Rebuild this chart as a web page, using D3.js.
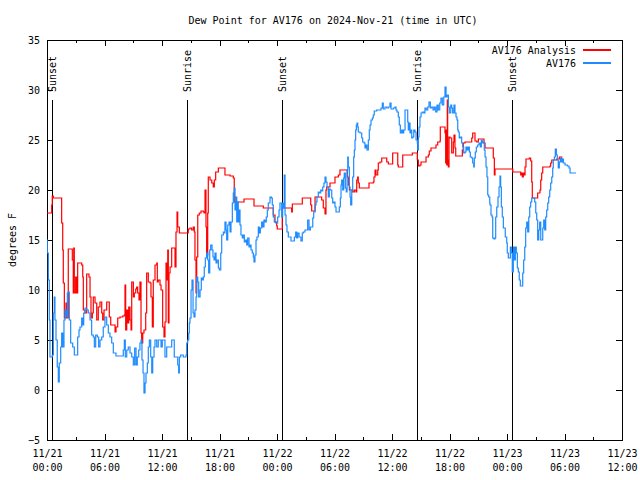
<!DOCTYPE html>
<html><head><meta charset="utf-8">
<script src="https://cdn.jsdelivr.net/npm/d3@7"></script>
<style>
body{margin:0;background:#fff;}
svg text{font-family:"DejaVu Sans Mono","Liberation Mono",monospace;font-size:10px;fill:#000;}
</style></head><body>
<svg id="chart" width="640" height="480"></svg>
<script>
// ---------- DATA ----------
const chartTitle = "Dew Point for AV176 on 2024-Nov-21 (time in UTC)";
const yAxisLabel = "degrees F";
const seriesNames = ["AV176 Analysis", "AV176"];
const seriesColors = ["#ff0000", "#1e8cff"];
const yTickValues = [-5, 0, 5, 10, 15, 20, 25, 30, 35];
const xMajorHours = [0, 6, 12, 18, 24, 30, 36, 42, 48, 54, 60];
const xMinorHours = [3, 9, 15, 21, 27, 33, 39, 45, 51, 57];
const sunLabels = ["Sunset", "Sunrise", "Sunset", "Sunrise", "Sunset"];
const sunHours = [0.55, 14.71, 24.55, 38.71, 48.55];

// hours since 2024-11-21 00:00 UTC
const analysisHours = [
0,0.49,0.55,0.66,1.53,1.64,1.70,1.81,1.98,2.06,
2.22,2.58,2.64,2.74,2.79,2.85,2.99,3.10,3.20,3.44,
3.62,3.73,3.79,3.97,4.14,4.38,4.49,4.59,4.73,4.83,
5.01,5.19,5.35,5.53,5.71,5.81,5.95,6.23,6.40,6.50,
6.65,6.99,7.10,7.20,7.38,7.62,7.90,8.07,8.14,8.21,
8.32,8.42,8.53,8.66,8.77,8.84,9.01,9.11,9.26,9.36,
9.46,9.60,9.70,9.81,9.88,9.99,10.12,10.30,10.40,10.57,
10.75,10.85,10.99,11.09,11.27,11.45,11.51,11.61,11.79,11.90,
12.07,12.21,12.31,12.42,12.49,12.60,12.66,12.73,12.84,13.01,
13.25,13.36,13.46,13.57,13.64,13.81,14.58,14.74,14.92,15.10,
15.27,15.37,15.44,15.55,15.62,15.73,15.89,16.07,16.31,16.41,
16.49,16.59,16.66,16.77,16.83,17.01,17.19,17.35,17.46,17.60,
17.88,18.40,18.57,19.10,19.44,19.54,20.04,20.56,21.53,21.60,
22.47,22.57,23.45,23.61,23.79,23.97,24.03,24.49,24.55,25.46,
25.53,25.60,26.58,26.64,27.44,27.52,27.62,27.89,27.97,28.59,
28.66,28.83,29.01,29.11,29.19,29.53,29.95,30.05,30.40,30.57,
31.27,31.34,31.44,31.55,31.90,32.07,32.24,32.32,32.42,32.48,
32.59,33.36,33.60,33.95,34.05,34.12,34.23,34.33,34.51,34.57,
34.75,34.93,35.34,35.45,35.62,35.97,36.07,36.49,36.60,36.66,
37.01,37.12,38.06,38.12,38.58,38.64,38.75,38.92,39.03,39.44,
39.55,39.79,39.89,40.07,40.49,40.59,40.77,41.01,41.04,41.46,
41.53,41.60,41.64,41.71,41.77,41.81,41.88,41.95,42.05,42.23,
42.40,42.47,42.57,42.65,43.27,43.34,43.44,43.62,44.14,44.32,
44.42,44.56,44.66,44.84,45.01,45.53,45.60,45.71,46.47,46.57,
46.68,46.75,48.49,48.60,49.28,49.43,49.53,49.60,49.70,49.81,
49.88,49.98,50.33,50.47,50.58,50.64,51.10,51.20,51.44,51.52,
51.62,51.73,52.49,52.56,52.67,53.19,53.46,53.71];
const analysisDew = [
17.7,18.5,19.4,19.2,16.7,14.0,10.7,7.2,8.7,7.2,
14.1,14.1,13.0,9.7,14.2,9.7,11.3,9.7,12.7,12.7,
12.5,11.3,8.0,7.7,11.6,11.3,9.3,7.2,7.7,9.3,
8.7,7.0,8.3,8.8,7.7,7.0,8.0,8.8,8.8,7.3,
6.5,6.5,5.8,6.3,7.2,7.3,7.4,7.5,10.5,6.0,
8.0,6.7,8.3,7.0,6.0,10.8,9.3,9.7,10.1,10.3,
9.7,9.0,10.8,5.7,4.7,5.7,6.0,7.7,11.7,10.8,
10.7,9.3,6.3,11.0,12.5,12.7,10.8,11.0,10.5,10.0,
6.3,5.3,6.8,12.7,11.0,14.0,6.7,11.7,12.3,14.2,
14.2,12.3,15.8,17.8,16.3,15.7,15.7,16.1,16.2,16.0,
16.3,15.8,13.0,9.7,13.3,17.5,17.7,17.9,17.8,17.7,
20.0,16.3,13.5,17.7,21.3,21.0,20.7,20.3,21.0,21.8,
22.2,22.2,21.5,21.4,21.2,18.8,18.8,19.1,19.1,18.4,
18.4,18.2,18.2,17.5,16.8,16.4,16.1,16.1,18.2,18.2,
17.8,18.6,18.6,19.2,19.2,18.5,17.9,17.9,19.3,19.3,
19.0,18.2,17.6,20.0,20.3,20.7,20.7,21.3,21.5,22.0,
22.0,21.3,20.5,20.0,19.8,20.0,19.8,21.0,21.3,20.7,
20.2,20.2,20.7,20.7,20.8,21.3,22.0,21.5,22.0,22.7,
22.8,23.2,23.2,22.8,22.6,22.6,23.7,23.7,22.5,22.3,
22.3,23.5,23.5,23.7,23.7,23.0,22.4,22.5,22.8,22.8,
23.3,23.5,23.9,24.2,24.2,24.5,24.8,24.9,26.3,26.3,
25.7,22.7,26.0,22.5,29.0,23.0,22.3,25.3,25.2,23.7,
24.8,25.5,24.2,23.4,23.4,24.0,24.7,24.8,24.8,25.2,
25.7,25.7,24.9,24.8,25.1,25.1,24.7,24.2,24.2,23.2,
21.5,22.1,22.1,21.8,21.8,21.5,21.7,21.3,21.7,21.5,
22.3,23.1,23.2,22.9,20.8,19.2,19.2,19.7,20.0,21.0,
21.7,22.3,22.4,22.7,23.0,23.1,23.3,23.1];

const obsHours = [
0.00,0.03,0.14,0.24,0.31,0.49,0.55,0.66,0.76,0.83,
0.94,1.07,1.18,1.28,1.43,1.53,1.64,1.77,1.88,1.98,
2.12,2.22,2.33,2.47,2.68,2.85,3.10,3.20,3.34,3.44,
3.62,3.73,3.83,3.97,4.14,4.31,4.49,4.66,4.83,4.94,
5.08,5.25,5.39,5.53,5.71,5.87,6.05,6.23,6.40,6.57,
6.75,6.92,7.20,7.79,7.96,8.07,8.17,8.32,8.48,8.66,
8.84,9.01,9.15,9.29,9.42,9.57,9.70,9.81,9.91,10.02,
10.12,10.23,10.33,10.47,10.57,10.68,10.82,10.93,11.03,11.17,
11.27,11.45,11.61,11.90,12.03,12.31,12.49,13.01,13.28,13.64,
13.74,13.81,13.95,14.22,14.50,14.58,14.68,14.79,14.85,14.92,
15.03,15.13,15.24,15.34,15.44,15.55,15.62,15.73,15.83,15.97,
16.10,16.21,16.31,16.41,16.52,16.66,16.77,16.87,16.98,17.08,
17.22,17.32,17.43,17.53,17.64,17.74,17.88,17.98,18.13,18.23,
18.40,18.50,18.57,18.68,18.75,18.86,18.99,19.10,19.20,19.34,
19.44,19.54,19.62,19.72,19.80,19.90,19.96,20.07,20.14,20.24,
20.38,20.48,20.59,20.73,20.84,20.94,21.08,21.18,21.29,21.42,
21.53,21.60,21.70,21.81,21.91,22.05,22.15,22.26,22.40,22.51,
22.64,22.75,22.88,22.99,23.09,23.27,23.41,23.51,23.61,23.72,
23.86,23.97,24.07,24.21,24.31,24.42,24.49,24.59,24.70,24.76,
24.84,24.94,25.04,25.18,25.36,25.46,25.70,25.81,25.95,26.06,
26.16,26.30,26.50,26.64,26.75,26.92,27.10,27.20,27.34,27.48,
27.62,27.73,27.83,27.97,28.07,28.17,28.31,28.41,28.56,28.66,
28.77,28.90,29.01,29.11,29.22,29.35,29.46,29.56,29.71,29.81,
29.92,30.05,30.16,30.40,30.50,30.61,30.68,30.75,30.86,30.96,
31.02,31.13,31.23,31.31,31.38,31.44,31.55,31.62,31.69,31.80,
31.90,32.00,32.07,32.14,32.21,32.28,32.35,32.42,32.48,32.66,
32.84,32.94,33.08,33.18,33.29,33.39,33.53,33.63,33.71,33.81,
33.95,34.05,34.15,34.40,34.75,34.85,34.99,35.09,35.27,35.45,
35.62,35.79,35.90,36.14,36.31,36.42,36.52,36.66,36.76,36.87,
37.01,37.12,37.22,37.36,37.54,37.64,37.70,37.81,37.88,37.98,
38.06,38.16,38.27,38.40,38.51,38.64,38.68,38.75,38.82,38.92,
39.03,39.16,39.31,39.44,39.58,39.73,39.86,40.00,40.14,40.28,
40.42,40.56,40.70,40.83,40.98,41.11,41.25,41.40,41.53,41.64,
41.74,41.88,41.98,42.13,42.23,42.33,42.47,42.57,42.68,42.78,
42.86,42.92,43.02,43.13,43.27,43.38,43.48,43.62,43.72,43.83,
43.96,44.07,44.17,44.32,44.42,44.53,44.59,44.69,44.80,44.94,
45.08,45.22,45.32,45.42,45.53,45.63,45.71,45.81,45.91,45.99,
46.09,46.20,46.23,46.33,46.44,46.51,46.64,46.75,46.82,46.93,
47.06,47.17,47.27,47.34,47.41,47.51,47.62,47.72,47.82,47.97,
48.03,48.14,48.24,48.35,48.45,48.55,48.66,48.76,48.87,48.97,
49.08,49.18,49.28,49.39,49.57,49.64,49.74,49.85,49.95,50.06,
50.16,50.27,50.37,50.47,50.58,50.89,51.00,51.10,51.20,51.31,
51.41,51.52,51.62,51.73,51.83,51.94,52.04,52.14,52.25,52.35,
52.46,52.56,52.67,52.77,52.83,52.94,53.04,53.15,53.25,53.35,
53.46,53.56,53.67,53.77,53.88,54.05,54.29,54.47,54.58,55.20];
const obsDew = [
15.0,13.7,11.0,7.0,3.3,3.3,3.5,7.7,9.3,7.0,
5.0,2.3,0.8,2.7,4.3,5.7,4.3,7.0,8.0,7.3,
9.7,9.8,7.0,4.7,4.3,3.5,3.5,5.3,6.0,6.3,
7.2,6.5,7.7,8.2,8.0,7.7,7.0,5.5,5.3,4.3,
5.5,5.3,4.3,5.0,5.3,6.3,7.3,6.5,5.7,5.3,
4.7,3.7,3.4,3.4,4.0,5.0,3.3,4.0,4.3,3.7,
3.3,2.5,4.2,2.5,3.3,4.0,4.7,5.0,3.0,1.7,
-0.3,0.7,1.7,2.7,4.3,5.0,3.3,1.7,3.3,4.3,
5.0,4.3,5.0,4.3,5.0,3.3,4.3,5.0,3.3,2.5,
1.7,3.3,3.5,3.3,3.5,4.7,5.0,5.7,6.7,7.2,
10.0,11.0,7.7,7.3,8.0,9.3,11.3,10.8,9.3,10.0,
11.2,11.0,11.3,12.3,13.2,13.7,13.0,11.7,14.0,14.5,
14.0,13.3,13.0,13.7,12.7,13.0,12.2,12.0,13.7,15.5,
15.8,15.7,16.8,16.0,15.0,16.5,16.8,15.8,16.8,18.7,
19.7,20.2,18.0,19.3,16.8,18.8,16.8,18.0,16.5,15.5,
15.2,15.5,14.8,15.0,14.5,15.2,14.3,14.5,14.0,13.7,
13.3,12.8,13.5,15.0,15.3,16.3,15.7,16.2,16.8,16.3,
17.0,16.8,17.3,18.0,18.7,19.3,19.2,18.5,17.3,16.8,
16.7,16.7,17.3,18.0,18.7,18.7,17.3,18.7,18.2,21.5,
17.5,16.5,15.8,15.3,15.3,14.9,14.9,15.3,15.8,15.2,
15.7,15.3,14.9,15.7,15.8,16.0,16.0,17.0,16.0,16.3,
16.3,17.2,17.8,18.5,18.8,19.3,19.8,19.7,20.0,19.9,
20.3,20.7,21.3,20.8,20.3,19.3,20.1,20.0,19.2,18.7,
18.8,18.3,17.8,17.8,18.3,19.2,20.5,21.0,20.0,21.2,
21.7,20.2,19.8,22.0,23.3,22.3,20.3,19.3,18.5,20.0,
21.3,23.3,24.0,25.0,26.0,26.5,26.7,26.3,25.8,25.7,
25.2,24.8,24.7,24.2,24.5,24.0,25.0,26.0,26.5,27.0,
27.2,27.5,27.9,28.0,28.0,28.2,28.7,28.1,28.3,28.2,
28.3,28.7,28.1,28.2,28.3,28.0,27.8,27.3,26.5,25.7,
26.0,25.7,26.0,28.0,28.0,26.8,26.0,26.7,25.7,26.0,
25.2,25.3,26.0,25.8,25.0,24.7,24.0,25.3,26.3,27.3,
27.7,27.8,27.7,28.2,28.0,28.3,28.8,28.2,28.3,28.0,
28.3,27.8,28.5,28.0,28.7,29.2,28.5,29.3,30.3,29.3,
29.5,28.3,27.7,28.5,28.2,27.7,28.5,27.7,27.3,27.0,
26.0,25.8,25.2,25.3,24.7,24.3,23.7,23.8,24.3,24.0,
24.3,23.8,23.3,23.2,22.7,22.3,23.2,23.8,24.3,24.5,
24.7,24.3,25.0,24.7,24.8,24.0,23.3,22.3,21.3,19.5,
19.3,18.7,18.5,17.5,17.3,15.2,15.1,15.2,17.3,18.3,
19.3,20.3,21.4,20.3,18.3,17.3,16.2,16.2,15.3,14.7,
13.7,13.2,13.2,14.3,13.7,11.8,14.3,13.0,14.3,13.7,
12.2,11.8,11.0,10.4,10.4,11.7,13.0,14.3,16.2,16.8,
15.8,17.3,18.3,18.8,19.2,18.8,17.7,17.0,15.0,16.0,
16.8,15.0,15.0,16.2,17.0,16.0,17.3,18.0,18.7,19.3,
20.0,20.7,21.3,22.2,23.0,23.3,24.1,23.5,23.0,22.2,
22.8,23.2,22.8,23.1,22.7,22.5,22.4,22.2,21.7,21.7];

// ---------- CHART ----------
const startMs = Date.UTC(2024, 10, 21, 0, 0);
const toDate = h => new Date(startMs + h * 3600000);
const M = {l: 47, r: 622, t: 40, b: 440};

const x = d3.scaleUtc().domain([toDate(0), toDate(60)]).range([M.l, M.r]);
const y = d3.scaleLinear().domain([-5, 35]).range([M.b, M.t]);

const svg = d3.select("#chart");
svg.append("rect").attr("width", 640).attr("height", 480).attr("fill", "#fff");

svg.append("defs").append("clipPath").attr("id", "plotclip")
  .append("rect").attr("x", M.l).attr("y", M.t).attr("width", M.r - M.l).attr("height", M.b - M.t);

// title and axis label
svg.append("text").attr("x", 333).attr("y", 20).attr("dy", "0.35em")
  .attr("text-anchor", "middle").text(chartTitle);
svg.append("text").attr("transform", "translate(12,240) rotate(-90)")
  .attr("dy", "0.35em").attr("text-anchor", "middle").text(yAxisLabel);

const axes = svg.append("g").attr("shape-rendering", "crispEdges");
axes.append("g").attr("transform", `translate(${M.l},0)`)
  .call(d3.axisLeft(y).tickValues(yTickValues).tickSize(-6).tickPadding(7).tickFormat(d3.format("d")));
axes.append("g").attr("transform", `translate(${M.r},0)`)
  .call(d3.axisRight(y).tickValues(yTickValues).tickSize(-6).tickFormat(""));
const gb = axes.append("g").attr("transform", `translate(0,${M.b})`)
  .call(d3.axisBottom(x).tickValues(xMajorHours.map(toDate)).tickSize(-6).tickPadding(0).tickFormat(""));
axes.append("g").attr("transform", `translate(0,${M.b})`)
  .call(d3.axisBottom(x).tickValues(xMinorHours.map(toDate)).tickSize(-3).tickFormat(""));
axes.append("g").attr("transform", `translate(0,${M.t})`)
  .call(d3.axisTop(x).tickValues(xMajorHours.map(toDate)).tickSize(-6).tickFormat(""));
axes.append("g").attr("transform", `translate(0,${M.t})`)
  .call(d3.axisTop(x).tickValues(xMinorHours.map(toDate)).tickSize(-3).tickFormat(""));
axes.selectAll(".domain").remove();
axes.selectAll(".tick line").attr("stroke", "#000");

const fmtDay = d3.utcFormat("%m/%d"), fmtTime = d3.utcFormat("%H:%M");
gb.selectAll(".tick").each(function(d) {
  const t = d3.select(this).append("text").attr("text-anchor", "middle");
  t.append("tspan").attr("x", 0).attr("y", 16.5).text(fmtDay(d));
  t.append("tspan").attr("x", 0).attr("y", 30.5).text(fmtTime(d));
});

// frame
axes.append("rect").attr("x", M.l).attr("y", M.t)
  .attr("width", M.r - M.l).attr("height", M.b - M.t)
  .attr("fill", "none").attr("stroke", "#000");

// sunrise / sunset markers
const lineTop = y(29);
const sunG = svg.append("g");
sunHours.forEach((h, i) => {
  const xp = x(toDate(h));
  sunG.append("line").attr("x1", xp).attr("x2", xp).attr("y1", lineTop).attr("y2", M.b)
    .attr("stroke", "#000").attr("stroke-width", 1).attr("shape-rendering", "crispEdges");
  sunG.append("text").attr("transform", `translate(${xp},${lineTop - 8}) rotate(-90)`)
    .attr("dy", "0.35em").attr("text-anchor", "start").text(sunLabels[i]);
});

// series
const line = d3.line()
  .x(d => x(toDate(d[0])))
  .y(d => y(d[1]))
  .curve(d3.curveStepAfter);
const plot = svg.append("g").attr("clip-path", "url(#plotclip)");
const seriesData = [
  d3.zip(analysisHours, analysisDew),
  d3.zip(obsHours, obsDew)
];
seriesData.forEach((data, i) => {
  plot.append("path").datum(data).attr("d", line)
    .attr("fill", "none").attr("stroke", seriesColors[i]).attr("stroke-width", 1.2);
});

// legend
const legend = svg.append("g");
seriesNames.forEach((name, i) => {
  const ly = 50 + i * 13;
  legend.append("text").attr("x", 576).attr("y", ly).attr("dy", "0.35em")
    .attr("text-anchor", "end").text(name);
  legend.append("line").attr("x1", 583).attr("x2", 611).attr("y1", ly).attr("y2", ly)
    .attr("stroke", seriesColors[i]).attr("stroke-width", 1.2).attr("shape-rendering", "crispEdges");
});
</script>
</body></html>
